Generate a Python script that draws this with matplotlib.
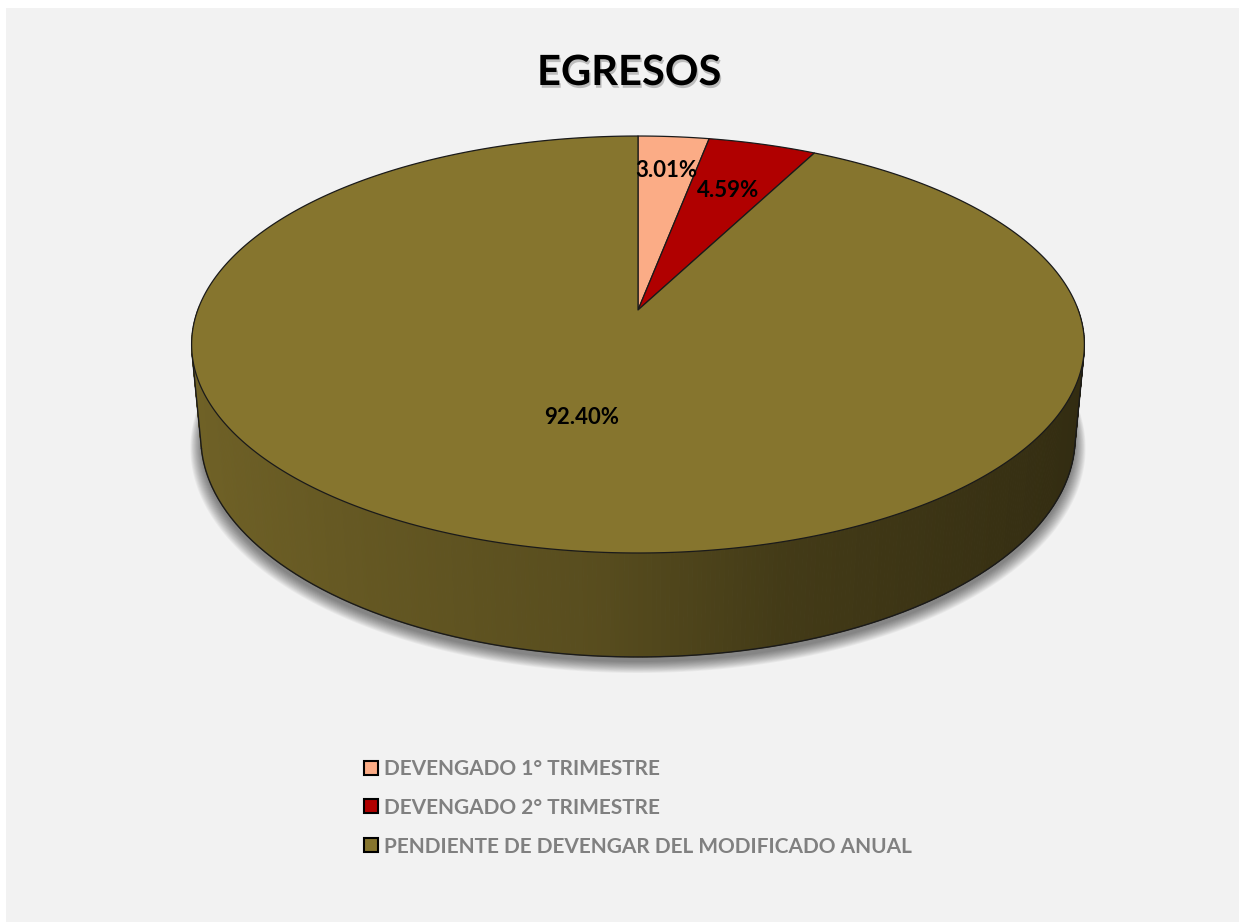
import numpy as np
import matplotlib
matplotlib.use("Agg")
import matplotlib.pyplot as plt
from matplotlib.patches import Polygon, Rectangle, Patch
import matplotlib.patheffects as pe

plt.rcParams['font.family'] = ['Lato', 'DejaVu Sans']

# ---- data ----
title = "EGRESOS"
categories = ["DEVENGADO 1° TRIMESTRE",
              "DEVENGADO 2° TRIMESTRE",
              "PENDIENTE DE DEVENGAR DEL MODIFICADO ANUAL"]
values = [3.01, 4.59, 92.40]
labels = ["3.01%", "4.59%", "92.40%"]
colors = ["#FBAC86", "#B00000", "#86752E"]

# ---- layout / style ----
W, H = 1239, 922
fig = plt.figure(figsize=(W / 100, H / 100), dpi=100, facecolor="white")
ax = fig.add_axes([0, 0, 1, 1])
ax.set_xlim(0, W)
ax.set_ylim(H, 0)
ax.axis("off")
ax.add_patch(Rectangle((6, 8), W - 6, H - 8, facecolor="#F2F2F2", edgecolor="none", zorder=0))

# perspective camera
u0, v0 = 638.0, 310.0
phi = np.arcsin(0.4606)
Lc = 5.363
F = 2361.0
h = 0.2404
label_r = [0.78, 0.69, 0.50]


def proj(X, Y, Z):
    X = np.asarray(X, float); Y = np.asarray(Y, float); Z = np.asarray(Z, float) * np.ones_like(X)
    den = Lc + Y * np.cos(phi) - Z * np.sin(phi)
    u = u0 + F * X / den
    v = v0 - F * (Y * np.sin(phi) + Z * np.cos(phi)) / den
    return u, v


def rgb(c):
    return np.array(matplotlib.colors.to_rgb(c))


fr = np.array(values) / np.sum(values)
bounds = np.concatenate([[0], np.cumsum(fr)]) * 2 * np.pi  # clockwise from top

# ---- shadow ----
tt = np.linspace(0, 2 * np.pi, 400)
for i in range(14):
    k = 1.0 + 0.0018 * i
    su, sv = proj(k * np.sin(tt), k * np.cos(tt), -h)
    ax.add_patch(Polygon(np.c_[su, sv + 5 + 0.3 * i], closed=True, facecolor="#000000",
                         edgecolor="none", alpha=0.04, zorder=1))

# ---- side wall ----
n = 720
th = np.linspace(0, 2 * np.pi, n + 1)
quads = []
for j in range(n):
    a, b = th[j], th[j + 1]
    m = 0.5 * (a + b)
    Y = np.cos(m)
    if Y > 0.02:
        continue
    si = np.searchsorted(bounds, m) - 1
    si = min(max(si, 0), len(values) - 1)
    X = np.sin(m)
    shade = np.interp(X, [-1, -0.09, 0.28, 1], [0.84, 0.66, 0.50, 0.37])
    col = np.clip(rgb(colors[si]) * shade, 0, 1)
    ut, vt = proj([np.sin(a), np.sin(b)], [np.cos(a), np.cos(b)], 0)
    ub, vb = proj([np.sin(b), np.sin(a)], [np.cos(b), np.cos(a)], -h)
    quads.append((Y, np.c_[np.r_[ut, ub], np.r_[vt, vb]], col))
quads.sort(key=lambda q: -q[0])
for _, pts, col in quads:
    ax.add_patch(Polygon(pts, closed=True, facecolor=col, edgecolor=col, lw=0.6, zorder=2))

# wall outline
lim = -1.0 / (Lc * np.cos(phi))
ts = np.arccos(lim)
tb = np.linspace(ts, 2 * np.pi - ts, 300)
bu, bv = proj(np.sin(tb), np.cos(tb), -h)
ax.plot(bu, bv, color="#1a1a1a", lw=1.0, zorder=3)
for t0 in (ts, 2 * np.pi - ts):
    xs, ys = np.array([np.sin(t0)]), np.array([np.cos(t0)])
    ua, va = proj(xs, ys, 0)
    ub_, vb_ = proj(xs, ys, -h)
    ax.plot([ua[0], ub_[0]], [va[0], vb_[0]], color="#1a1a1a", lw=1.0, zorder=3)

# ---- top face ----
for i in range(len(values)):
    t = np.linspace(bounds[i], bounds[i + 1], max(4, int(fr[i] * 720)))
    ru, rv = proj(np.sin(t), np.cos(t), 0)
    pts = np.c_[np.r_[u0, ru], np.r_[v0, rv]]
    ax.add_patch(Polygon(pts, closed=True, facecolor=colors[i], edgecolor="#1a1a1a",
                         lw=0.9, joinstyle="round", zorder=4))

# ---- labels ----
for i in range(len(values)):
    m = 0.5 * (bounds[i] + bounds[i + 1])
    lu, lv = proj(np.array([label_r[i] * np.sin(m)]), np.array([label_r[i] * np.cos(m)]), 0)
    ax.text(lu[0], lv[0], labels[i], ha="center", va="center", fontsize=16,
            fontweight="bold", color="black", zorder=6)

# ---- title ----
ax.text(629, 73, title, ha="center", va="center", fontsize=30, fontweight="bold",
        color="black", zorder=6,
        path_effects=[pe.SimplePatchShadow(offset=(1, -2), shadow_rgbFace="#000000", alpha=0.22),
                      pe.Normal()])

# ---- legend ----
handles = [Patch(facecolor=c, edgecolor="black", lw=1.5) for c in colors]
leg = ax.legend(handles, categories, loc="upper left", bbox_to_anchor=(364 / W, 1 - 759 / H),
                bbox_transform=fig.transFigure, frameon=False, fontsize=15,
                handlelength=0.65, handleheight=0.65, handletextpad=0.3, labelspacing=0.9,
                borderaxespad=0, borderpad=0)
for txt in leg.get_texts():
    txt.set_color("#808080")
    txt.set_fontweight("bold")

fig.savefig("out.png", dpi=100, facecolor="white")
